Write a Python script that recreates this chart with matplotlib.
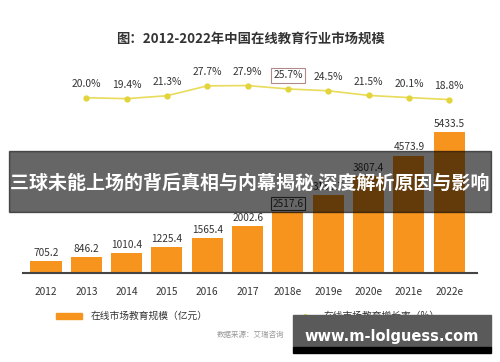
import matplotlib.pyplot as plt
from matplotlib.patches import Rectangle

plt.rcParams['font.family'] = ['Noto Sans CJK SC', 'DejaVu Sans']

# === data ===
years = ["2012", "2013", "2014", "2015", "2016", "2017",
         "2018e", "2019e", "2020e", "2021e", "2022e"]
market_size = [705.2, 846.2, 1010.4, 1225.4, 1565.4, 2002.6,
               2517.6, 3133.7, 3807.4, 4573.9, 5433.5]
growth_pos = [1, 2, 3, 4, 5, 6, 7, 8, 9, 10]   # 2013 .. 2022e
growth = [20.0, 19.4, 21.3, 27.7, 27.9, 25.7, 24.5, 21.5, 20.1, 18.8]
boxed_bar = 6      # 2517.6
boxed_growth = 5   # 25.7%

W, H = 500, 362
fig = plt.figure(figsize=(5.0, 3.62), dpi=100)
fig.patch.set_facecolor("white")

def fx(px):
    return px / W

def fy(py):
    return 1 - py / H

# axes: baseline at y=273px, from x=23 to x=477
ax = fig.add_axes([fx(23), fy(273), fx(477 - 23), (273 - 60) / H])
ax.set_xlim(-0.57, 10.69)
ax.set_ylim(278, 278 + 213 / 0.02735)
ax.bar(range(len(years)), market_size, width=0.77, color="#F7941D", zorder=2)
for s in ["top", "right", "left"]:
    ax.spines[s].set_visible(False)
ax.spines["bottom"].set_color("#444444")
ax.spines["bottom"].set_linewidth(1.5)
ax.set_yticks([])
ax.set_xticks(range(len(years)))
ax.set_xticklabels(years, fontsize=7.3, color="#333333")
ax.tick_params(axis="x", length=0, pad=10)
ax.patch.set_alpha(0)

for i, v in enumerate(market_size):
    bbox = None
    if i == boxed_bar:
        bbox = dict(boxstyle="square,pad=0.15", fc="white", ec="#444444", lw=0.8)
    ax.annotate(f"{v:.1f}", (i, v), xytext=(0, 5.8), textcoords="offset points",
                ha="center", va="center", fontsize=7.3, color="#333333", bbox=bbox)

# growth line on twin axis
ax2 = ax.twinx()
ax2.set_ylim(-93.8, 44.5)
ax2.axis("off")
ax2.plot(growth_pos, growth, color="#E8DC5A", lw=1.2, marker="o", ms=3.5,
         mfc="#E2D43A", mec="#E2D43A", zorder=3)
for i, (p, g) in enumerate(zip(growth_pos, growth)):
    bbox = None
    if i == boxed_growth:
        bbox = dict(boxstyle="square,pad=0.2", fc="white", ec="#B08A8A", lw=0.8)
    ax2.annotate(f"{g:.1f}%", (p, g), xytext=(0, 9.7), textcoords="offset points",
                 ha="center", va="center", fontsize=7.4, color="#333333", bbox=bbox)

# title
fig.text(0.5, fy(40), "图：2012-2022年中国在线教育行业市场规模", ha="center", va="center",
         fontsize=9.6, fontweight="bold", color="#333333")

# legend
fig.patches.append(Rectangle((fx(56), fy(319)), fx(26), 6.5 / H, color="#F7941D",
                             transform=fig.transFigure, figure=fig))
fig.text(fx(91), fy(316), "在线市场教育规模（亿元）", ha="left", va="center",
         fontsize=7, color="#333333")
fig.lines.append(plt.Line2D([fx(305)], [fy(316)], marker="o", ms=2.5, color="#E2D43A",
                            transform=fig.transFigure, figure=fig))
fig.text(fx(324), fy(316), "在线市场教育增长率（%）", ha="left", va="center",
         fontsize=7, color="#333333")
fig.text(fx(250), fy(335), "数据来源：艾瑞咨询", ha="center", va="center",
         fontsize=5.4, color="#999999")

# overlay banner
fig.patches.append(Rectangle((fx(9), fy(212)), fx(482), 61 / H, color="black", alpha=0.6,
                             transform=fig.transFigure, figure=fig, zorder=10))
fig.text(fx(250), fy(183), "三球未能上场的背后真相与内幕揭秘 深度解析原因与影响",
         ha="center", va="center", fontsize=13.7, fontweight="bold", color="white", zorder=11)

# watermark
fig.patches.append(Rectangle((fx(293), fy(347)), fx(198), 32 / H, color="#5a5a5a",
                             transform=fig.transFigure, figure=fig, zorder=10))
fig.patches.append(Rectangle((fx(293), fy(353)), fx(198), 6 / H, color="black",
                             transform=fig.transFigure, figure=fig, zorder=10))
fig.text(fx(392), fy(336), "www.m-lolguess.com", ha="center", va="center",
         fontsize=10.5, fontweight="bold", color="white", family="DejaVu Sans", zorder=11)

fig.savefig("out.png", dpi=100)
